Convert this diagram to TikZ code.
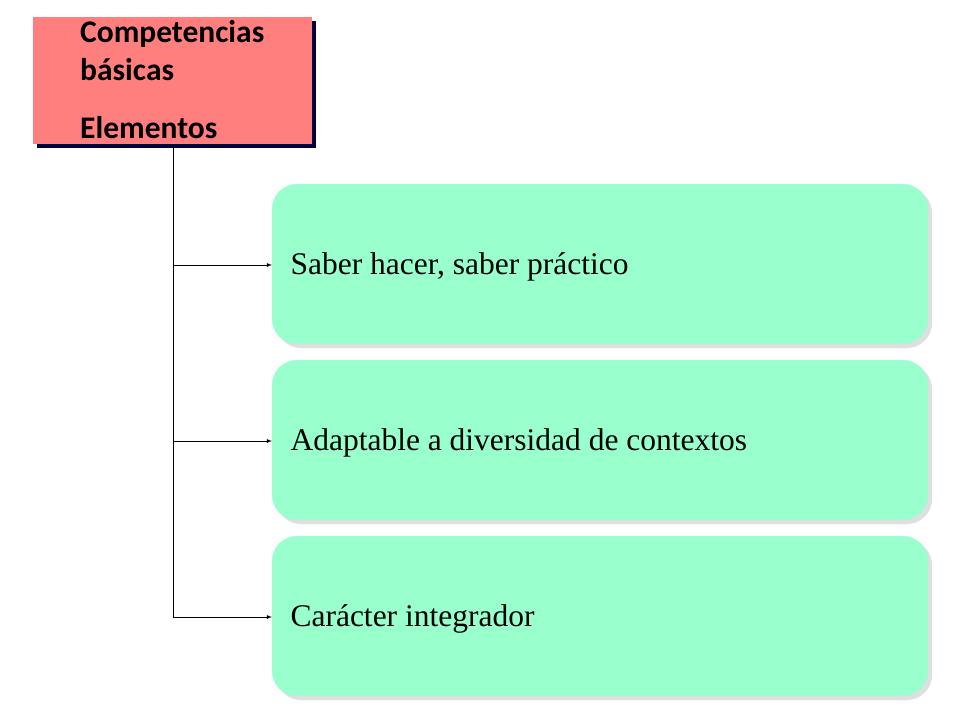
\documentclass[tikz,border=0pt]{standalone}
\usepackage{fontspec}
\setmainfont{Liberation Serif}
\newfontfamily\carlitofont{Carlito}
\begin{document}
\begin{tikzpicture}[x=1pt,y=-1pt,
 conn/.style={-latex, line width=0.8pt}]
\definecolor{gfill}{HTML}{99FFCC}
\definecolor{pfill}{HTML}{FF7F7F}
\definecolor{navy}{HTML}{000040}
\useasboundingbox (0,0) rectangle (960,720);
\fill[navy] (37,21) rectangle (316,148);
\fill[pfill] (33,17) rectangle (312,144);
\node[anchor=north west, align=left, font=\carlitofont\bfseries\fontsize{31.5}{38}\selectfont, inner sep=0] (top) at (80,20)
 {Competencias\\básicas\\[20pt]Elementos};
\coordinate (root) at (173,144);
\foreach \y/\t/\n in {184/{Saber hacer, saber práctico}/a, 360/{Adaptable a diversidad de contextos}/b, 536/{Carácter integrador}/c}{
 \fill[gray!25, rounded corners=25] (276,\y+4) rectangle (932,\y+164);
 \fill[gfill, rounded corners=25] (272,\y) rectangle (928,\y+160);
 \coordinate (\n) at (272,\y+81);
 \node[anchor=west, font=\fontsize{31.5}{36}\selectfont] at (287,\y+83) {\t};
}
\draw[line width=0.8pt] (root) -- (root |- c);
\foreach \n in {a,b,c}{\draw[conn] (root |- \n) -- (\n);}
\end{tikzpicture}
\end{document}
